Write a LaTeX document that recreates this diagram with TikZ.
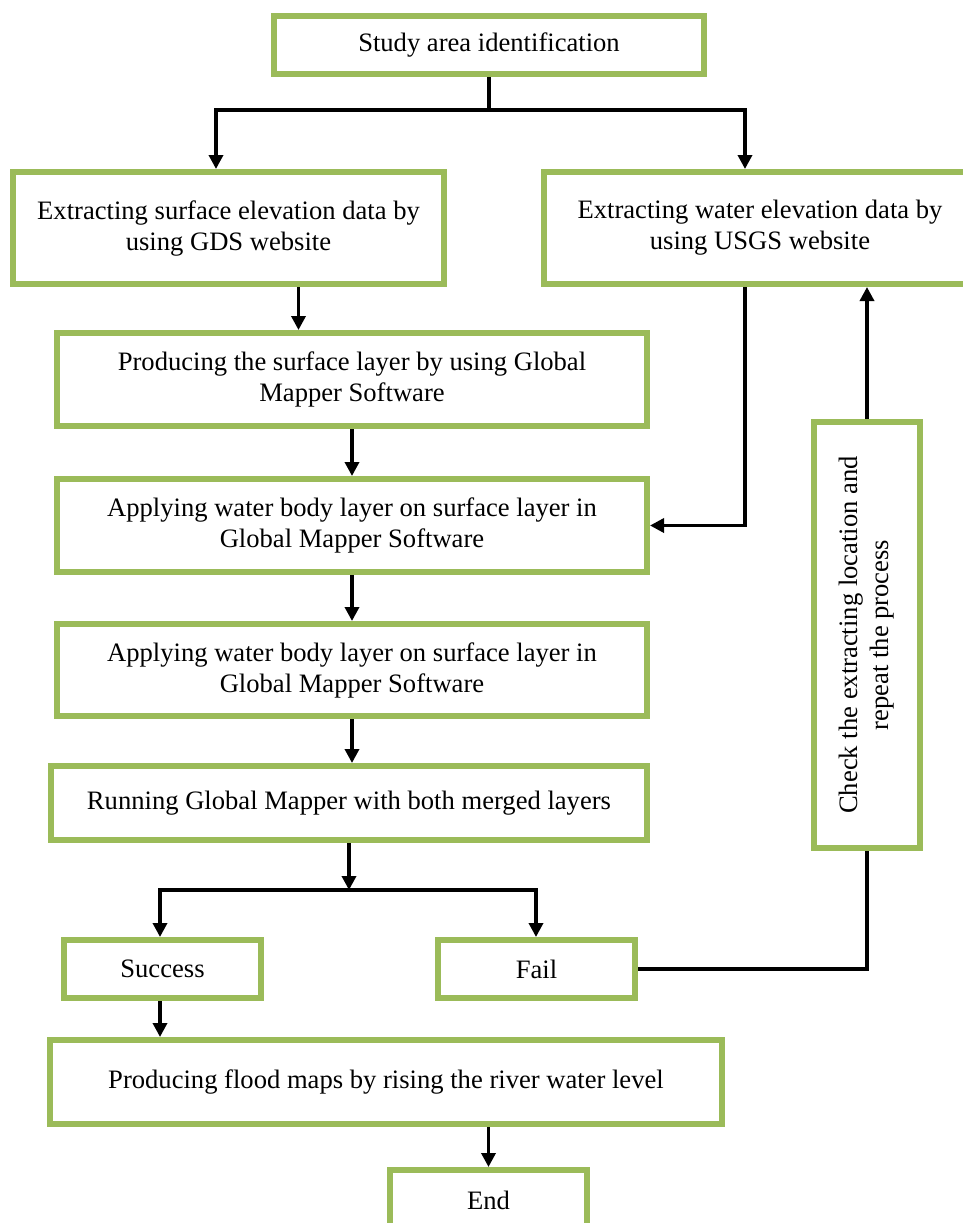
\documentclass[tikz,border=0pt]{standalone}
\usepackage{fontspec}
\setmainfont{Liberation Serif}
\usetikzlibrary{arrows.meta}
\definecolor{boxgreen}{HTML}{9BBB59}
\tikzset{
  stage/.style={draw=boxgreen, line width=3pt, fill=white, align=center,
    font=\fontsize{13.3}{15.5}\selectfont},
  link/.style={line width=1.7pt},
  arrow/.style={link, -{Triangle[length=7pt,width=7pt]}}
}
\begin{document}
\begin{tikzpicture}[x=0.5pt,y=-0.5pt]
    \useasboundingbox (0,0) rectangle (963,1223);
    \clip (0,0) rectangle (963,1223);

    \node[stage, minimum width=215pt, minimum height=29pt] (study) at (489,45) {Study area identification};
    \node[stage, minimum width=215.5pt, minimum height=56pt] (surface) at (228.5,228) {Extracting surface elevation data by\\ using GDS website};
    \node[stage, minimum width=216pt, minimum height=56pt] (water) at (760,228) {Extracting water elevation data by\\ using USGS website};
    \node[stage, minimum width=295pt, minimum height=46.5pt] (producing) at (352,379.5) {Producing the surface layer by using Global\\ Mapper Software};
    \node[stage, minimum width=295pt, minimum height=46.5pt] (applyA) at (352,525.5) {Applying water body layer on surface layer in\\ Global Mapper Software};
    \node[stage, minimum width=295pt, minimum height=46pt] (applyB) at (352,670) {Applying water body layer on surface layer in\\ Global Mapper Software};
    \node[stage, minimum width=298pt, minimum height=37pt] (running) at (349,803) {Running Global Mapper with both merged layers};
    \node[stage, minimum width=98.5pt, minimum height=29pt] (success) at (162.5,969) {Success};
    \node[stage, minimum width=98.5pt, minimum height=29pt] (fail) at (536.5,969) {Fail};
    \node[stage, minimum width=336pt, minimum height=42pt] (flood) at (386,1082) {Producing flood maps by rising the river water level};
    \node[stage, minimum width=98.5pt, minimum height=30pt] (finish) at (488.5,1200) {End};
    \node[stage, rotate=90, minimum width=213pt, minimum height=53pt] (check) at (867,635) {Check the extracting location and\\ repeat the process};

    \coordinate (topsplit) at (489,110);
    \coordinate (topleft) at (216,110);
    \coordinate (topright) at (745,110);
    \coordinate (midsplit) at (349,890);
    \coordinate (midleft) at (160,890);
    \coordinate (midright) at (536,890);

    \draw[link] (study.south) -- (topsplit);
    \draw[arrow] (topsplit) -| (topleft |- surface.north);
    \draw[arrow] (topsplit) -| (topright |- water.north);
    \draw[arrow] ([xshift=35pt]surface.south) -- ([xshift=35pt]surface.south |- producing.north);
    \draw[arrow] (producing.south) -- (applyA.north);
    \draw[arrow] (topright |- water.south) |- (applyA.east);
    \draw[arrow] (applyA.south) -- (applyB.north);
    \draw[arrow] (applyB.south) -- (applyB.south |- running.north);
    \draw[arrow] (running.south) -- (midsplit);
    \draw[arrow] (midsplit) -| (midleft |- success.north);
    \draw[arrow] (midsplit) -| (midright |- fail.north);
    \draw[arrow] (midleft |- success.south) -- (midleft |- flood.north);
    \draw[arrow] (finish.north |- flood.south) -- (finish.north);
    \draw[link] (fail.east) -| (check.west);
    \draw[arrow] (check.east) -- (check.east |- water.south);
\end{tikzpicture}
\end{document}
